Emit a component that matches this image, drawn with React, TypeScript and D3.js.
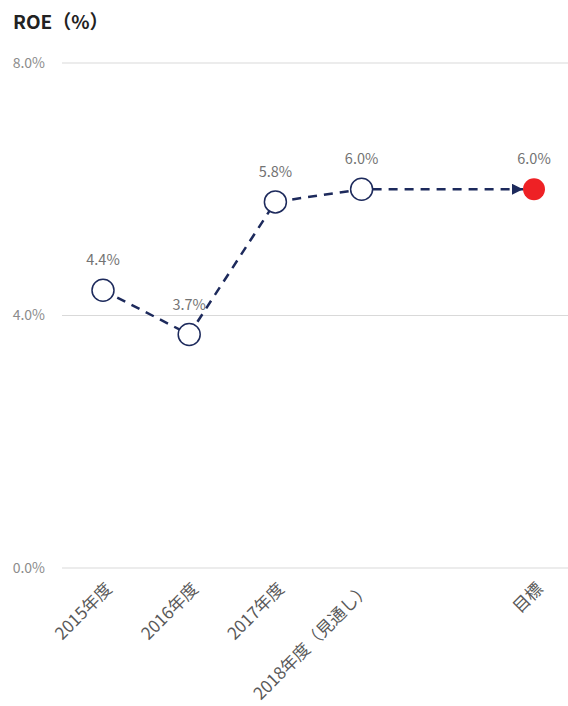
import React, { useEffect, useRef } from "react";
import * as d3 from "d3";

// ROE chart data
const categories = ["2015年度", "2016年度", "2017年度", "2018年度（見通し）", "目標"];
const slots = [0, 1, 2, 3, 5]; // 目標 sits one slot further right
const roe = [4.4, 3.7, 5.8, 6.0, 6.0];
const yTicks = [0, 4, 8];

const width = 568,
  height = 706;
const margin = { top: 63, right: 0, bottom: 138, left: 62 };

const navy = "#1d2a5c";
const red = "#ee2125";
const font = "'Noto Sans CJK JP', 'Noto Sans', sans-serif";

export default function App(): JSX.Element {
  const ref = useRef<SVGSVGElement>(null);

  useEffect(() => {
    if (!ref.current) return;
    const svg = d3.select(ref.current);
    svg.selectAll("*").remove();

    const x = d3.scaleLinear().domain([0, 5]).range([103, 534]);
    const y = d3
      .scaleLinear()
      .domain([0, 8])
      .range([height - margin.bottom, margin.top]);

    svg
      .append("defs")
      .append("marker")
      .attr("id", "arrow")
      .attr("viewBox", "0 0 10 10")
      .attr("refX", 10)
      .attr("refY", 5)
      .attr("markerWidth", 4.5)
      .attr("markerHeight", 4.5)
      .attr("markerUnits", "strokeWidth")
      .attr("orient", "auto")
      .append("path")
      .attr("d", "M0,0L10,5L0,10z")
      .attr("fill", navy);

    // title
    svg
      .append("text")
      .attr("x", 13)
      .attr("y", 29)
      .attr("font-family", font)
      .attr("font-size", 19)
      .attr("font-weight", "bold")
      .attr("fill", "#222")
      .text("ROE（%）");

    // grid + y labels
    const grid = svg.append("g");
    grid
      .selectAll("line")
      .data(yTicks)
      .join("line")
      .attr("x1", margin.left)
      .attr("x2", width)
      .attr("y1", (d) => y(d))
      .attr("y2", (d) => y(d))
      .attr("stroke", "#d9d9d9")
      .attr("stroke-width", 1);
    grid
      .selectAll("text")
      .data(yTicks)
      .join("text")
      .attr("x", 45)
      .attr("y", (d) => y(d))
      .attr("dy", "0.35em")
      .attr("text-anchor", "end")
      .attr("font-family", font)
      .attr("font-size", 14)
      .attr("fill", "#8c8c8c")
      .text((d) => d3.format(".1f")(d) + "%");

    // x labels
    svg
      .append("g")
      .selectAll("text")
      .data(categories)
      .join("text")
      .attr("transform", (d, i) => `translate(${x(slots[i]) + 10},${y(0) + 22}) rotate(-45)`)
      .attr("text-anchor", "end")
      .attr("font-family", font)
      .attr("font-size", 17)
      .attr("fill", "#595959")
      .text((d) => d);

    const pts = roe.map((v, i) => [x(slots[i]), y(v)] as [number, number]);
    const r = 11;

    // dashed line: actuals then arrow to target
    svg
      .append("path")
      .attr("d", d3.line()(pts.slice(0, 4)))
      .attr("fill", "none")
      .attr("stroke", navy)
      .attr("stroke-width", 2.5)
      .attr("stroke-dasharray", "9,7");

    const [a, b] = [pts[3], pts[4]];
    const ang = Math.atan2(b[1] - a[1], b[0] - a[0]);
    svg
      .append("line")
      .attr("x1", a[0] + r * Math.cos(ang))
      .attr("y1", a[1] + r * Math.sin(ang))
      .attr("x2", b[0] - r * Math.cos(ang))
      .attr("y2", b[1] - r * Math.sin(ang))
      .attr("stroke", navy)
      .attr("stroke-width", 2.5)
      .attr("stroke-dasharray", "9,7")
      .attr("marker-end", "url(#arrow)");

    svg
      .append("g")
      .selectAll("circle")
      .data(pts)
      .join("circle")
      .attr("cx", (d) => d[0])
      .attr("cy", (d) => d[1])
      .attr("r", r)
      .attr("fill", (d, i) => (i === 4 ? red : "#fff"))
      .attr("stroke", (d, i) => (i === 4 ? "none" : navy))
      .attr("stroke-width", 1.5);

    svg
      .append("g")
      .selectAll("text")
      .data(roe)
      .join("text")
      .attr("x", (d, i) => pts[i][0])
      .attr("y", (d, i) => pts[i][1] - 30)
      .attr("dy", "0.35em")
      .attr("text-anchor", "middle")
      .attr("font-family", font)
      .attr("font-size", 14.5)
      .attr("fill", "#737373")
      .text((d) => d3.format(".1f")(d) + "%");
  }, []);

  return (
    <svg
      ref={ref}
      width={width}
      height={height}
      style={{ position: "absolute", left: 0, top: 0, background: "#fff" }}
    />
  );
}
